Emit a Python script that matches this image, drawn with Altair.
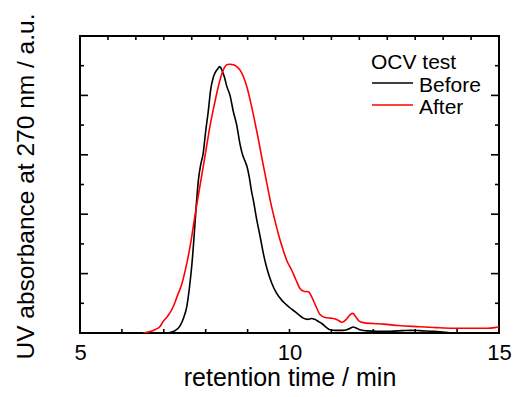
import altair as alt
import pandas as pd

# ---- data ----
before_t = [7.03, 7.15, 7.27, 7.39, 7.47, 7.55, 7.63, 7.67, 7.72, 7.78, 7.83, 7.88, 7.94, 8.00,
            8.06, 8.12, 8.18, 8.24, 8.29, 8.33, 8.36, 8.40, 8.45, 8.50, 8.58, 8.66, 8.74, 8.82,
            8.88, 8.94, 8.99, 9.04, 9.09, 9.14, 9.22, 9.30, 9.38, 9.46, 9.57, 9.69, 9.85, 10.01,
            10.13, 10.21, 10.33, 10.43, 10.53, 10.60, 10.70, 10.77, 10.87, 10.97, 11.10, 11.25,
            11.37, 11.45, 11.52, 11.60, 11.70, 11.85, 12.1, 12.4, 12.7, 12.9, 13.1, 13.35, 13.6, 13.87]
before_v = [0.000, 0.002, 0.008, 0.025, 0.050, 0.090, 0.175, 0.230, 0.320, 0.440, 0.520, 0.566, 0.605, 0.680,
            0.745, 0.820, 0.860, 0.880, 0.890, 0.897, 0.893, 0.880, 0.860, 0.832, 0.800, 0.745, 0.700, 0.635,
            0.600, 0.578, 0.558, 0.525, 0.480, 0.445, 0.380, 0.324, 0.265, 0.218, 0.170, 0.134, 0.105, 0.085,
            0.072, 0.063, 0.050, 0.046, 0.049, 0.046, 0.038, 0.032, 0.020, 0.011, 0.009, 0.009,
            0.011, 0.016, 0.020, 0.016, 0.010, 0.007, 0.006, 0.006, 0.008, 0.009, 0.008, 0.006, 0.004, 0.000]

after_t = [6.51, 6.65, 6.80, 6.91, 6.99, 7.10, 7.23, 7.31, 7.43, 7.55, 7.65, 7.74, 7.82, 7.90, 8.00,
           8.10, 8.20, 8.30, 8.38, 8.46, 8.52, 8.58, 8.66, 8.74, 8.82, 8.90, 8.98, 9.06, 9.16, 9.26,
           9.36, 9.46, 9.55, 9.65, 9.75, 9.85, 9.93, 10.05, 10.15, 10.25, 10.35, 10.45, 10.53, 10.63,
           10.73, 10.85, 10.97, 11.05, 11.15, 11.25, 11.35, 11.45, 11.51, 11.58, 11.66, 11.76, 12.0,
           12.24, 12.6, 13.11, 13.5, 13.91, 14.3, 14.71, 14.9, 15.0]
after_v = [0.000, 0.004, 0.012, 0.022, 0.040, 0.058, 0.090, 0.120, 0.165, 0.235, 0.310, 0.392, 0.460, 0.526, 0.610,
           0.695, 0.765, 0.829, 0.870, 0.897, 0.904, 0.905, 0.903, 0.897, 0.885, 0.863, 0.830, 0.785, 0.720, 0.650,
           0.575, 0.504, 0.440, 0.380, 0.325, 0.279, 0.246, 0.212, 0.180, 0.150, 0.140, 0.139, 0.122, 0.090,
           0.062, 0.052, 0.050, 0.049, 0.044, 0.036, 0.045, 0.062, 0.066, 0.055, 0.040, 0.035, 0.032,
           0.030, 0.025, 0.021, 0.018, 0.016, 0.016, 0.016, 0.018, 0.021]

series_names = ["Before", "After"]
series_colors = ["black", "red"]

x_labels = [5, 10, 15]
x_bottom_ticks = [6, 7, 8, 9, 10, 11, 12, 13, 14]
x_top_ticks = [5.667, 6.333, 7.0, 7.667, 8.333, 9.0, 9.667, 10.333, 11.0, 11.667, 12.333,
               13.0, 13.667, 14.333]
y_major_ticks = [0.2, 0.4, 0.6, 0.8]
y_minor_ticks = [0.1, 0.3, 0.5, 0.7, 0.9]

# ---- tables ----
df = pd.concat([
    pd.DataFrame({"t": before_t, "v": before_v, "series": "Before", "order": range(len(before_t))}),
    pd.DataFrame({"t": after_t, "v": after_v, "series": "After", "order": range(len(after_t))}),
])

W, H = 419, 297
FONT = "Liberation Sans"
xscale = alt.Scale(domain=[5, 15], nice=False, zero=False)
yscale = alt.Scale(domain=[0, 1], nice=False, zero=False)

x_axis = alt.Axis(values=x_labels, title="retention time / min", ticks=False, tickSize=0,
                  domain=False, grid=False, labelFlush=False, labelFontSize=22,
                  labelFont=FONT, labelColor="black", labelBaseline="alphabetic",
                  labelPadding=26, titleFont=FONT, titleFontSize=25,
                  titleFontWeight="normal", titleColor="black",
                  titleBaseline="alphabetic", titleY=52, titleX=W / 2,
                  titleAnchor="middle", format="d")
y_axis = alt.Axis(title="UV absorbance at 270 nm / a.u.", labels=False, ticks=False,
                  domain=False, grid=False, titleFont=FONT, titleFontSize=24.5,
                  titleFontWeight="normal", titleColor="black", titleAngle=270,
                  titleBaseline="alphabetic", titleX=-47, titleY=150,
                  titleAlign="center")

lines = alt.Chart(df).mark_line(strokeWidth=1.6, interpolate="monotone", clip=True).encode(
    x=alt.X("t:Q", scale=xscale, axis=x_axis),
    y=alt.Y("v:Q", scale=yscale, axis=y_axis),
    color=alt.Color("series:N", scale=alt.Scale(domain=series_names, range=series_colors),
                    legend=alt.Legend(title="OCV test", orient="none", legendX=291, legendY=16,
                                      padding=0, titleFont=FONT, titleFontSize=21,
                                      titleFontWeight="normal", titleColor="black",
                                      titlePadding=2, labelFont=FONT, labelFontSize=21,
                                      labelColor="black", symbolType="M-4,-0.5H4",
                                      symbolSize=105, symbolStrokeWidth=1.6,
                                      symbolOffset=11, labelOffset=16, rowPadding=0)),
    order="order:Q",
)

def xticks(vals, y0, y1):
    return alt.Chart(pd.DataFrame({"t": vals})).mark_rule(color="black", strokeWidth=1.6).encode(
        x=alt.X("t:Q", scale=xscale, axis=x_axis), y=alt.value(y0), y2=alt.value(y1))

def yticks(vals, x0, x1):
    return alt.Chart(pd.DataFrame({"v": vals})).mark_rule(color="black", strokeWidth=1.6).encode(
        y=alt.Y("v:Q", scale=yscale, axis=y_axis), x=alt.value(x0), x2=alt.value(x1))

chart = alt.layer(
    lines,
    xticks(x_bottom_ticks, H, H - 4),
    xticks(x_top_ticks, 0, 4),
    yticks(y_major_ticks, 0, 8),
    yticks(y_minor_ticks, 0, 4),
    yticks(y_major_ticks, W, W - 8),
    yticks(y_minor_ticks, W, W - 4),
).properties(
    width=W, height=H,
    padding={"left": 80, "top": 36, "right": 16, "bottom": 64},
    autosize=alt.AutoSizeParams(type="none"),
    background="white",
).configure_view(stroke="black", strokeWidth=2)

chart.save("out.html", embed_options={"renderer": "svg", "actions": False})
